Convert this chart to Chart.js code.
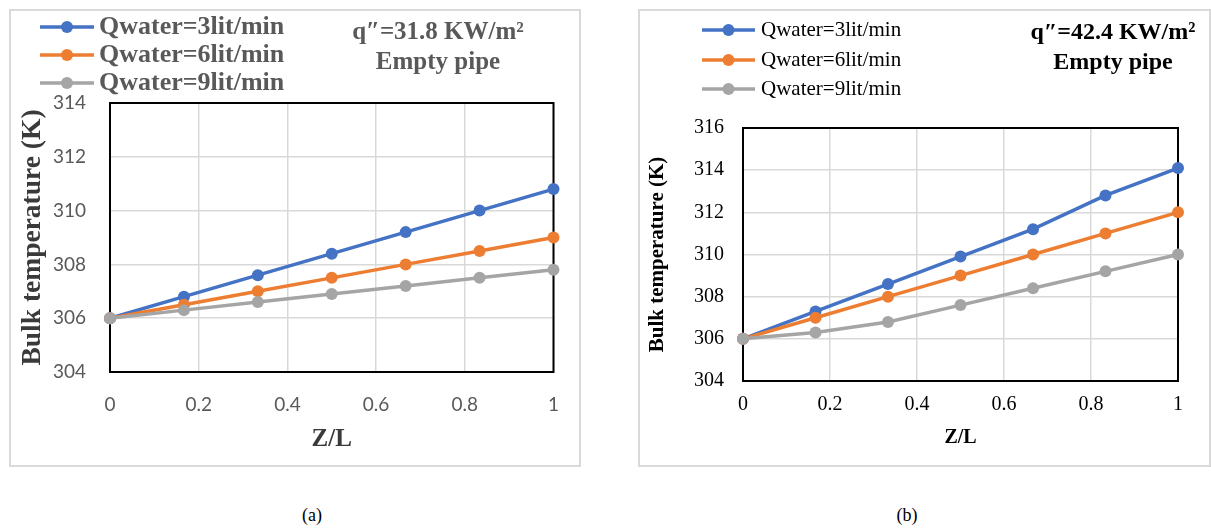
<!DOCTYPE html>
<html>
<head>
<meta charset="utf-8">
<script src="https://cdn.jsdelivr.net/npm/chart.js@4.4.0/dist/chart.umd.min.js"></script>
<style>
    html, body { margin: 0; padding: 0; background: #fff; }
    body { width: 1211px; height: 531px; position: relative; overflow: hidden; }
    .box { position: absolute; top: 9px; height: 458px; border: 2px solid #d9d9d9; box-sizing: border-box; }
    #boxA { left: 9px; width: 572px; }
    #boxB { left: 638px; width: 573px; }
    canvas { position: absolute; top: 10px; }
    #chartA { left: 10px; }
    #chartB { left: 639px; }
    .cap { position: absolute; top: 505px; font: 18px "Liberation Serif", serif; color: #000; transform: translateX(-50%); }
</style>
</head>
<body>
<div class="box" id="boxA"></div>
<div class="box" id="boxB"></div>
<canvas id="chartA" width="570" height="456"></canvas>
<canvas id="chartB" width="571" height="456"></canvas>
<div class="cap" style="left:312px">(a)</div>
<div class="cap" style="left:907px">(b)</div>

<script>
// ========================================
// DADOS
// ========================================
const zL = [0, 0.1667, 0.3333, 0.5, 0.6667, 0.8333, 1];
const seriesNames = ['Qwater=3lit/min', 'Qwater=6lit/min', 'Qwater=9lit/min'];
const seriesColors = ['#4472C4', '#ED7D31', '#A5A5A5'];

// (a) q''=31.8 KW/m²
const tempA_3 = [306, 306.8, 307.6, 308.4, 309.2, 310.0, 310.8];
const tempA_6 = [306, 306.5, 307.0, 307.5, 308.0, 308.5, 309.0];
const tempA_9 = [306, 306.3, 306.6, 306.9, 307.2, 307.5, 307.8];

// (b) q''=42.4 KW/m²
const tempB_3 = [306, 307.3, 308.6, 309.9, 311.2, 312.8, 314.1];
const tempB_6 = [306, 307.0, 308.0, 309.0, 310.0, 311.0, 312.0];
const tempB_9 = [306, 306.3, 306.8, 307.6, 308.4, 309.2, 310.0];

// eixos
const xTicks = [0, 0.2, 0.4, 0.6, 0.8, 1];
const yTicksA = [304, 306, 308, 310, 312, 314];
const yTicksB = [304, 306, 308, 310, 312, 314, 316];

const noteA = ['q\u2033=31.8 KW/m\u00b2', 'Empty pipe'];
const noteB = ['q\u2033=42.4 KW/m\u00b2', 'Empty pipe'];
const xTitle = 'Z/L';
const yTitle = 'Bulk temperature (K)';

// ========================================
// PLUGINS
// ========================================
// moldura preta da área do gráfico
const framePlugin = {
    id: 'frame',
    beforeDatasetsDraw(chart) {
        const { ctx, chartArea: a } = chart;
        ctx.save();
        ctx.strokeStyle = '#000';
        ctx.lineWidth = 2;
        ctx.strokeRect(a.left, a.top, a.right - a.left, a.bottom - a.top);
        ctx.restore();
    }
};

// legenda no estilo do Excel (linha + marcador)
const lineLegendPlugin = {
    id: 'lineLegend',
    afterDraw(chart, args, opts) {
        const ctx = chart.ctx;
        chart.data.datasets.forEach((ds, i) => {
            const y = opts.rows[i];
            ctx.save();
            ctx.strokeStyle = ds.borderColor;
            ctx.lineWidth = ds.borderWidth;
            ctx.beginPath();
            ctx.moveTo(opts.x1, y);
            ctx.lineTo(opts.x2, y);
            ctx.stroke();
            ctx.fillStyle = ds.pointBackgroundColor;
            ctx.beginPath();
            ctx.arc((opts.x1 + opts.x2) / 2, y, ds.pointRadius, 0, Math.PI * 2);
            ctx.fill();
            ctx.fillStyle = opts.color;
            ctx.font = opts.font;
            ctx.textBaseline = 'middle';
            ctx.textAlign = 'left';
            ctx.fillText(ds.label, opts.textX, y);
            ctx.restore();
        });
    }
};

// texto de anotação (q'' e Empty pipe)
const notePlugin = {
    id: 'note',
    afterDraw(chart, args, opts) {
        const ctx = chart.ctx;
        ctx.save();
        ctx.fillStyle = opts.color;
        ctx.font = opts.font;
        ctx.textAlign = 'center';
        ctx.textBaseline = 'middle';
        opts.lines.forEach((t, i) => ctx.fillText(t, opts.x, opts.ys[i]));
        ctx.restore();
    }
};

// ========================================
// FÁBRICA DE GRÁFICOS
// ========================================
function makeDataset(label, values, color, order) {
    return {
        label: label,
        data: zL.map((x, i) => ({ x: x, y: values[i] })),
        borderColor: color,
        backgroundColor: color,
        pointBackgroundColor: color,
        pointBorderWidth: 0,
        pointRadius: 6,
        borderWidth: 3.5,
        tension: 0,
        clip: false,
        order: order
    };
}

function makeChart(canvasId, series, yTicks, s) {
    const ctx = document.getElementById(canvasId);
    return new Chart(ctx, {
        type: 'line',
        data: {
            datasets: [
                makeDataset(seriesNames[0], series[0], seriesColors[0], 3),
                makeDataset(seriesNames[1], series[1], seriesColors[1], 2),
                makeDataset(seriesNames[2], series[2], seriesColors[2], 1)
            ]
        },
        plugins: [framePlugin, lineLegendPlugin, notePlugin],
        options: {
            responsive: false,
            animation: false,
            layout: { padding: { left: 0, right: s.padRight, top: s.padTop, bottom: 0 } },
            plugins: {
                legend: { display: false },
                tooltip: { enabled: false },
                lineLegend: s.legend,
                note: s.note
            },
            scales: {
                x: {
                    type: 'linear',
                    min: 0,
                    max: 1,
                    afterBuildTicks: axis => { axis.ticks = xTicks.map(v => ({ value: v })); },
                    afterFit: axis => { axis.height = s.xHeight; },
                    grid: { color: '#d9d9d9', lineWidth: 1.5, drawTicks: false },
                    border: { display: false },
                    ticks: {
                        padding: s.xTickPad, color: s.tickColor, font: s.tickFont,
                        callback: v => String(v)
                    },
                    title: {
                        display: true, text: xTitle, color: s.titleColor,
                        font: s.xTitleFont, padding: { top: 0, bottom: s.xTitlePad }
                    }
                },
                y: {
                    type: 'linear',
                    min: yTicks[0],
                    max: yTicks[yTicks.length - 1],
                    afterBuildTicks: axis => { axis.ticks = yTicks.map(v => ({ value: v })); },
                    afterFit: axis => { axis.width = s.yWidth; },
                    grid: { color: '#d9d9d9', lineWidth: 1.5, drawTicks: false },
                    border: { display: false },
                    ticks: { padding: s.yTickPad, color: s.tickColor, font: s.tickFont },
                    title: {
                        display: true, text: yTitle, color: s.titleColor,
                        font: s.yTitleFont, padding: { top: s.yTitlePad, bottom: 0 }
                    }
                }
            }
        }
    });
}

// (a) estilo Calibri / cinza
makeChart('chartA', [tempA_3, tempA_6, tempA_9], yTicksA, {
    padTop: 93, padRight: 25, xHeight: 94, yWidth: 100,
    xTickPad: 21, yTickPad: 24, xTitlePad: 11, yTitlePad: 6,
    tickColor: '#595959',
    tickFont: { family: 'Lato, "Open Sans", sans-serif', size: 19 },
    titleColor: '#3a3a3a',
    xTitleFont: { family: '"Liberation Serif", serif', size: 25, weight: 'bold' },
    yTitleFont: { family: '"Liberation Serif", serif', size: 27.5, weight: 'bold' },
    legend: {
        x1: 30, x2: 84, textX: 89, rows: [17, 45, 73],
        font: 'bold 26px "Liberation Serif", serif', color: '#595959'
    },
    note: {
        lines: noteA, x: 428, ys: [23, 53],
        font: 'bold 25px "Liberation Serif", serif', color: '#595959'
    }
});

// (b) estilo Times / preto
makeChart('chartB', [tempB_3, tempB_6, tempB_9], yTicksB, {
    padTop: 118, padRight: 32, xHeight: 85, yWidth: 104,
    xTickPad: 12, yTickPad: 19, xTitlePad: 16, yTitlePad: 6,
    tickColor: '#000',
    tickFont: { family: '"Liberation Serif", serif', size: 20 },
    titleColor: '#000',
    xTitleFont: { family: '"Liberation Serif", serif', size: 20, weight: 'bold' },
    yTitleFont: { family: '"Liberation Serif", serif', size: 21, weight: 'bold' },
    legend: {
        x1: 63, x2: 116, textX: 122, rows: [20, 50, 79],
        font: '21px "Liberation Serif", serif', color: '#000'
    },
    note: {
        lines: noteB, x: 474, ys: [23, 53],
        font: 'bold 24px "Liberation Serif", serif', color: '#000'
    }
});
</script>
</body>
</html>
